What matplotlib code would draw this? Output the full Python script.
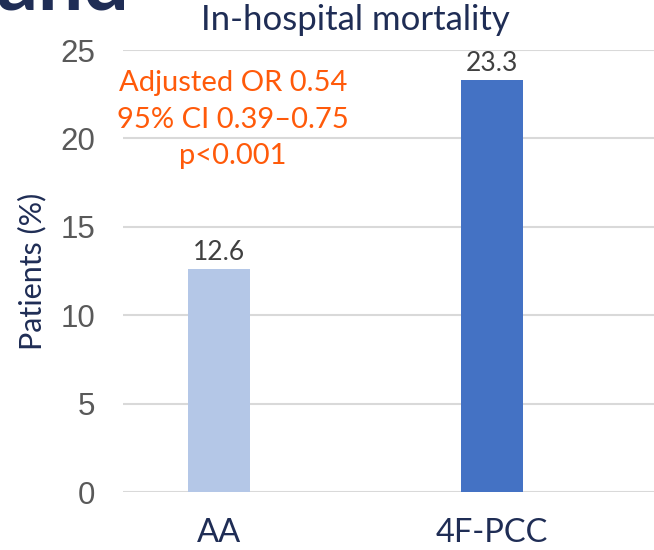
import matplotlib.pyplot as plt

# data
groups = ["AA", "4F-PCC"]
mortality = [12.6, 23.3]
bar_colors = ["#B4C7E7", "#4472C4"]
y_ticks = [0, 5, 10, 15, 20, 25]
note_lines = ["Adjusted OR 0.54", "95% CI 0.39\u20130.75", "p<0.001"]

navy = "#1F2D55"
calibri_like = ["Lato", "DejaVu Sans"]

fig = plt.figure(figsize=(6.54, 5.5), dpi=100)
# axes area in pixels: x 123..654, y 50..492
ax = fig.add_axes([123 / 654, (550 - 492) / 550, (654 - 123) / 654, (492 - 50) / 550])

x = list(range(len(groups)))
bars = ax.bar(x, mortality, width=0.227, color=bar_colors, zorder=3)

ax.set_xlim(-0.352, 1.593)
ax.set_ylim(0, 25)
ax.set_yticks(y_ticks)
ax.set_yticklabels([str(t) for t in y_ticks], family="Liberation Sans",
                   fontsize=22.5, color="#595959")
ax.set_xticks(x)
ax.set_xticklabels(groups, family=calibri_like, fontsize=23.5, color=navy)
ax.tick_params(axis="both", length=0)
ax.tick_params(axis="y", pad=20)
ax.tick_params(axis="x", pad=19)

ax.grid(axis="y", color="#D9D9D9", linewidth=1.5, zorder=0)
for s in ax.spines.values():
    s.set_visible(False)

ax.set_ylabel("Patients (%)", family=calibri_like, fontsize=22, color=navy, labelpad=10)

# value labels
for b, v in zip(bars, mortality):
    ax.annotate(f"{v}", (b.get_x() + b.get_width() / 2, v), xytext=(0, 3),
                textcoords="offset points", ha="center", va="bottom",
                family=calibri_like, fontsize=19, color="#404040")

# stats note
ax.text(0.051, 23.85, "\n".join(note_lines), ha="center", va="top",
        family=calibri_like, fontsize=21, color="#FF5A0A", linespacing=1.5, zorder=4)

fig.text(355 / 654, 1 - 20 / 550, "In-hospital mortality", ha="center", va="center",
         family=calibri_like, fontsize=25, color=navy)

# clipped slide heading
fig.text(-0.005, 1 - 10 / 550, "and", ha="left", va="baseline",
         family=calibri_like, fontsize=58, fontweight="bold", color=navy)

fig.savefig("out.png", dpi=100)
